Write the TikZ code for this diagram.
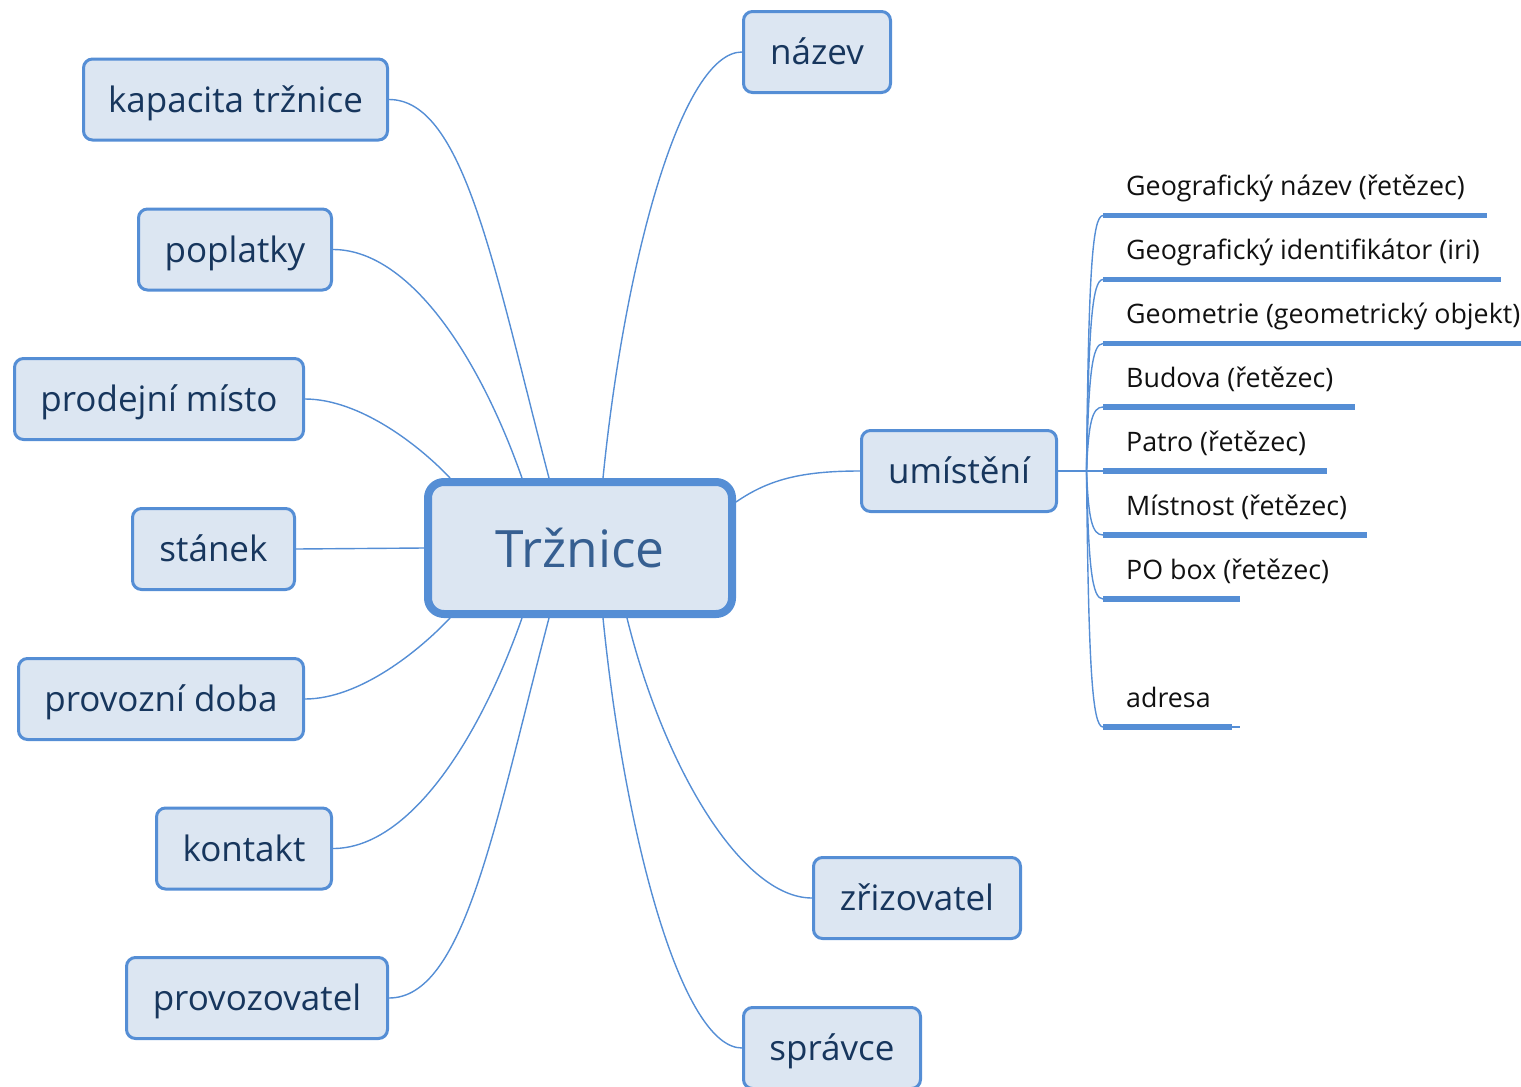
\documentclass[tikz,border=0pt]{standalone}
\usepackage{fontspec}
\setmainfont{Open Sans}
\usetikzlibrary{calc,backgrounds}
\definecolor{bord}{RGB}{85,142,213}
\definecolor{boxfill}{RGB}{220,230,242}
\definecolor{boxtext}{RGB}{23,54,93}
\definecolor{maintext}{RGB}{54,95,145}
\definecolor{listtext}{RGB}{17,17,17}
\begin{document}
\begin{tikzpicture}[x=1pt,y=-1pt,
 topic/.style={draw=bord, fill=boxfill, line width=3pt, rounded corners=9pt, inner sep=0pt, minimum height=81pt, text=boxtext, font=\fontsize{35}{42}\selectfont, text height=32pt, text depth=7pt},
 central/.style={draw=bord, fill=boxfill, line width=8pt, rounded corners=16pt, inner sep=0pt, minimum width=304pt, minimum height=132pt, text=maintext, font=\fontsize{51.5}{62}\selectfont, text height=50pt, text depth=11pt},
 link/.style={draw=bord, line width=1.4pt},
 uline/.style={draw=bord, line width=5.5pt},
 attr/.style={anchor=base west, inner sep=0pt, text=listtext, font=\fontsize{26.8}{32}\selectfont}]
\useasboundingbox (0,0) rectangle (1521,1087);

% central node
\node[central] (c) at (580,548) {Tržnice};

% topics
\node[topic, minimum width=304pt] (kap) at (235.5,99.5) {kapacita tržnice};
\node[topic, minimum width=193pt] (pop) at (235,249.5) {poplatky};
\node[topic, minimum width=289pt] (pro) at (159,399) {prodejní místo};
\node[topic, minimum width=162pt] (sta) at (213.5,549) {stánek};
\node[topic, minimum width=285pt] (doba) at (161,699) {provozní doba};
\node[topic, minimum width=175pt] (kon) at (244,848.5) {kontakt};
\node[topic, minimum width=261pt] (prov) at (257,998) {provozovatel};
\node[topic, minimum width=147pt] (naz) at (817,52) {název};
\node[topic, minimum width=195pt] (umi) at (959,471) {umístění};
\node[topic, minimum width=207pt] (zri) at (917,898) {zřizovatel};
\node[topic, minimum width=177pt] (spr) at (832,1048) {správce};

% attachment points on the central node
\coordinate (sK) at ($(c.north)+(-31,0)$);
\coordinate (sP) at ($(c.north)+(-58,0)$);
\coordinate (sM) at ($(c.north)+(-130,0)$);
\coordinate (sN) at ($(c.north)+(23,0)$);
\coordinate (sD) at ($(c.south)+(-130,0)$);
\coordinate (sKo) at ($(c.south)+(-58,0)$);
\coordinate (sPr) at ($(c.south)+(-31,0)$);
\coordinate (sZ) at ($(c.south)+(47,0)$);
\coordinate (sS) at ($(c.south)+(23,0)$);
\coordinate (sU) at ($(c.east)+(0,-46)$);

\begin{scope}[on background layer]
\draw[link] (kap.east) .. controls +(75,0) and +(-55,-210) .. (sK);
\draw[link] (pop.east) .. controls +(75,0) and +(-44,-125) .. (sP);
\draw[link] (pro.east) .. controls +(55,0) and +(-30,-32) .. (sM);
\draw[link] (sta.east) -- (c.west);
\draw[link] (doba.east) .. controls +(55,0) and +(-30,32) .. (sD);
\draw[link] (kon.east) .. controls +(75,0) and +(-44,125) .. (sKo);
\draw[link] (prov.east) .. controls +(75,0) and +(-55,210) .. (sPr);
\draw[link] (naz.west) .. controls +(-60,0) and +(22,-220) .. (sN);
\draw[link] (umi.west) .. controls +(-60,0) and +(32,-22) .. (sU);
\draw[link] (zri.west) .. controls +(-70,0) and +(37,150) .. (sZ);
\draw[link] (spr.west) .. controls +(-60,0) and +(22,220) .. (sS);
\end{scope}

% attribute subtree of umístění
\coordinate (j) at ($(umi.east)+(28.5,0)$);
\draw[link] (umi.east) -- (j);

\coordinate (u1) at (1103,215.5); \coordinate (e1) at (1487,215.5);
\coordinate (u2) at (1103,279.5); \coordinate (e2) at (1501,279.5);
\coordinate (u3) at (1103,343.5); \coordinate (e3) at (1521,343.5);
\coordinate (u4) at (1103,407);   \coordinate (e4) at (1355,407);
\coordinate (u5) at (1103,471);   \coordinate (e5) at (1327,471);
\coordinate (u6) at (1103,535);   \coordinate (e6) at (1367,535);
\coordinate (u7) at (1103,599);   \coordinate (e7) at (1240,599);
\coordinate (u8) at (1103,727);   \coordinate (e8) at (1232,727);
\coordinate (e8b) at (1240,727);

\draw[link] (j) .. controls +(2,-192) and +(-11,0) .. (u1);
\draw[link] (j) .. controls +(2,-144) and +(-11,0) .. (u2);
\draw[link] (j) .. controls +(2,-96) and +(-11,0) .. (u3);
\draw[link] (j) .. controls +(2,-48) and +(-11,0) .. (u4);
\draw[link] (j) -- (u5);
\draw[link] (j) .. controls +(2,48) and +(-11,0) .. (u6);
\draw[link] (j) .. controls +(2,96) and +(-11,0) .. (u7);
\draw[link] (j) .. controls +(2,192) and +(-11,0) .. (u8);
\draw[link] (u8) -- (e8b);

\draw[uline] (u1) -- (e1);
\draw[uline] (u2) -- (e2);
\draw[uline] (u3) -- (e3);
\draw[uline] (u4) -- (e4);
\draw[uline] (u5) -- (e5);
\draw[uline] (u6) -- (e6);
\draw[uline] (u7) -- (e7);
\draw[uline] (u8) -- (e8);

\node[attr] (t1) at (1126,195.5) {Geografický název (řetězec)};
\node[attr] (t2) at (1126,259.5) {Geografický identifikátor (iri)};
\node[attr] (t3) at (1126,323.5) {Geometrie (geometrický objekt)};
\node[attr] (t4) at (1126,387) {Budova (řetězec)};
\node[attr] (t5) at (1126,451) {Patro (řetězec)};
\node[attr] (t6) at (1126,515) {Místnost (řetězec)};
\node[attr] (t7) at (1126,579) {PO box (řetězec)};
\node[attr] (t8) at (1126,707) {adresa};
\end{tikzpicture}
\end{document}
